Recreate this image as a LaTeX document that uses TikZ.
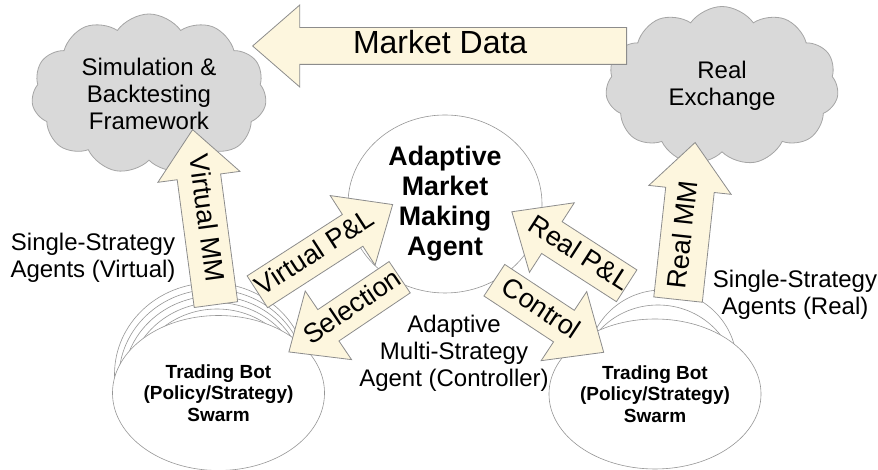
\documentclass[tikz,border=0pt]{standalone}
\usepackage{fontspec}
\setmainfont{Liberation Sans}
\usetikzlibrary{shapes.symbols,shapes.geometric,shapes.arrows,positioning}
\definecolor{cloudgray}{RGB}{217,217,217}
\definecolor{cloudline}{RGB}{165,165,165}
\definecolor{flowfill}{RGB}{253,246,222}
\definecolor{flowline}{RGB}{140,140,140}
\definecolor{ringline}{RGB}{150,150,150}

\begin{document}
\begin{tikzpicture}[x=1pt,y=1pt,
    cloudbox/.style={cloud,cloud puffs=11,cloud puff arc=110,cloud ignores aspect,
      draw=cloudline,fill=cloudgray,line width=0.8pt,align=center,inner sep=0pt,
      font=\fontsize{24}{27}\selectfont},
    ring/.style={ellipse,draw=ringline,fill=white,line width=0.6pt,inner sep=0pt},
    bot/.style={ring,align=center,font=\bfseries\fontsize{19}{21.5}\selectfont},
    note/.style={align=center,font=\fontsize{24}{27}\selectfont},
    flow/.style={single arrow,draw=flowline,fill=flowfill,line width=0.8pt,
      single arrow tip angle=82,inner sep=0pt,anchor=tail,
      text height=25.25pt,text depth=11.75pt,single arrow head extend=22.5pt,
      font=\fontsize{27}{30}\selectfont},
    back/.style={shape border rotate=180}]
  \useasboundingbox (0,0) rectangle (878,470);

  % clouds
  \node[cloudbox,minimum width=235pt,minimum height=160pt] (sim) at (149,376)
    {Simulation \&\\Backtesting\\Framework};
  \node[cloudbox,minimum width=233pt,minimum height=159pt] (exch) at (722,384)
    {Real\\Exchange};

  % controller
  \node[ring,minimum width=194pt,minimum height=178pt,align=center,
    font=\bfseries\fontsize{26.8}{30}\selectfont] (amm) at (445,266)
    {Adaptive\\Market\\Making\\Agent};

  % virtual swarm
  \foreach \i in {5,4,...,1}
    \node[ring,minimum width={(163+6*\i)*1pt},minimum height={(155+5.5*\i)*1pt}]
      at ({218.5-1.5*\i},{77+3.75*\i}) {};
  \node[bot,minimum width=163pt,minimum height=155pt] (swarmV) at (218.5,77)
    {Trading Bot\\(Policy/Strategy)\\Swarm};

  % real swarm
  \node[ring,minimum width=150pt,minimum height=150pt] at (662,105) {};
  \node[ring,minimum width=156pt,minimum height=150pt] at (658,90) {};
  \node[ring,minimum width=164pt,minimum height=146pt] at (647,76) {};
  \node[bot,minimum width=160pt,minimum height=150pt] (swarmR) at (655,76)
    {Trading Bot\\(Policy/Strategy)\\Swarm};

  \node[note] (ssv) at (93,212) {Single-Strategy\\Agents (Virtual)};
  \node[note] (ssr) at (795,175) {Single-Strategy\\Agents (Real)};
  \node[note] (ams) at (454,117) {Adaptive\\Multi-Strategy\\Agent (Controller)};

  % flows
  \node[flow,back,minimum height=374pt,text height=26pt,text depth=10pt,
    single arrow head extend=22.5pt,font=\fontsize{32}{36}\selectfont]
    (data) at (627,424) {Market Data\hspace*{20pt}};
  \node[flow,back,rotate=-82.4,minimum height=158pt,text height=28.25pt,
    text depth=14.75pt,single arrow head extend=19.5pt] (vmm) at (216,165)
    {Virtual MM\hspace*{22pt}};
  \node[flow,rotate=83.8,minimum height=158pt,text height=30.75pt,
    text depth=17.25pt,single arrow head extend=17pt] (rmm) at (678,170) {Real MM};
  \node[flow,rotate=32.8,minimum height=161pt] (vpl) at (257,178) {Virtual P\&L};
  \node[flow,back,rotate=34,minimum height=130pt] (sel) at (400,193) {Selection};
  \node[flow,back,rotate=-32.8,minimum height=131pt] (rpl) at (627,184) {Real P\&L};
  \node[flow,rotate=-33.4,minimum height=131pt] (ctl) at (494,190) {Control};
\end{tikzpicture}
\end{document}
